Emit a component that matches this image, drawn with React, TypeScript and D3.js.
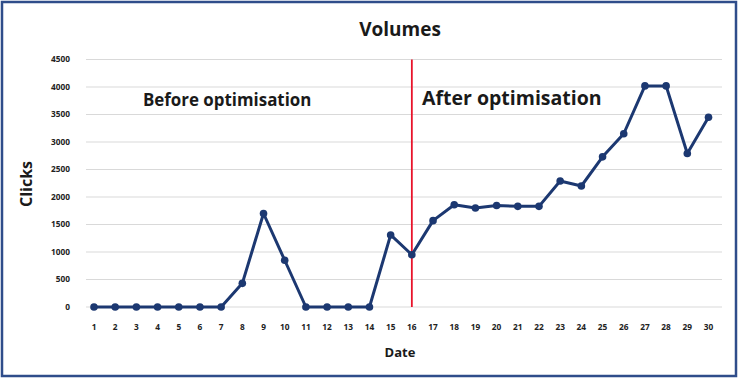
import React from "react";
import * as d3 from "d3";

const dates = [1,2,3,4,5,6,7,8,9,10,11,12,13,14,15,16,17,18,19,20,21,22,23,24,25,26,27,28,29,30];
const clicks = [0,0,0,0,0,0,0,430,1700,850,0,0,0,0,1310,950,1570,1860,1800,1845,1830,1830,2290,2200,2730,3150,4020,4020,2790,3450];
const yTicks = [0,500,1000,1500,2000,2500,3000,3500,4000,4500];
const splitDate = 16;

const W = 739, H = 379;
const FONT = "'Open Sans', 'Noto Sans', sans-serif";

export default function App() {
  const x = d3.scalePoint<number>().domain(dates).range([94, 708.5]);
  const y = d3.scaleLinear().domain([0, 4500]).range([307, 59.5]);
  const line = d3.line<number>().x((_, i) => x(dates[i])!).y((d) => y(d));
  const gridX0 = 86, gridX1 = 722;
  return (
    <svg width={W} height={H} style={{ position: "absolute", left: 0, top: 0, display: "block" }}>
      <rect x={0} y={0} width={W} height={H} fill="#fff" />
      <rect x={2} y={2} width={734} height={374} fill="none" stroke="#2f4d8a" strokeWidth={2.5} />
      <text x={400} y={36} textAnchor="middle" fontFamily={FONT} fontWeight={700} fontSize={19} fill="#1a1a1a">Volumes</text>
      {yTicks.map((t) => (
        <g key={t}>
          <line x1={gridX0} x2={gridX1} y1={y(t)} y2={y(t)} stroke="#d9d9d9" strokeWidth={1.2} />
          <text x={70} y={y(t)} dy="0.35em" textAnchor="end" fontFamily={FONT} fontWeight={700} fontSize={8.3} fill="#222">{t}</text>
        </g>
      ))}
      {dates.map((d) => (
        <text key={d} x={x(d)!} y={329.5} textAnchor="middle" fontFamily={FONT} fontWeight={700} fontSize={8.3} fill="#222">{d}</text>
      ))}
      <text x={400} y={357} textAnchor="middle" fontFamily={FONT} fontWeight={700} fontSize={13} fill="#1a1a1a">Date</text>
      <text transform={`translate(32,184) rotate(-90)`} textAnchor="middle" fontFamily={FONT} fontWeight={700} fontSize={16} fill="#1a1a1a">Clicks</text>
      <line x1={x(splitDate)!} x2={x(splitDate)!} y1={y(4500)} y2={y(0)} stroke="#e8132b" strokeWidth={1.8} />
      <text x={143} y={106} fontFamily={FONT} fontWeight={700} fontSize={16.9} fill="#1a1a1a">Before optimisation</text>
      <text x={422} y={105} fontFamily={FONT} fontWeight={700} fontSize={19.5} fill="#1a1a1a">After optimisation</text>
      <path d={line(clicks)!} fill="none" stroke="#1c3871" strokeWidth={3} strokeLinejoin="round" />
      {clicks.map((c, i) => (
        <circle key={i} cx={x(dates[i])!} cy={y(c)} r={3.8} fill="#1c3871" />
      ))}
    </svg>
  );
}
